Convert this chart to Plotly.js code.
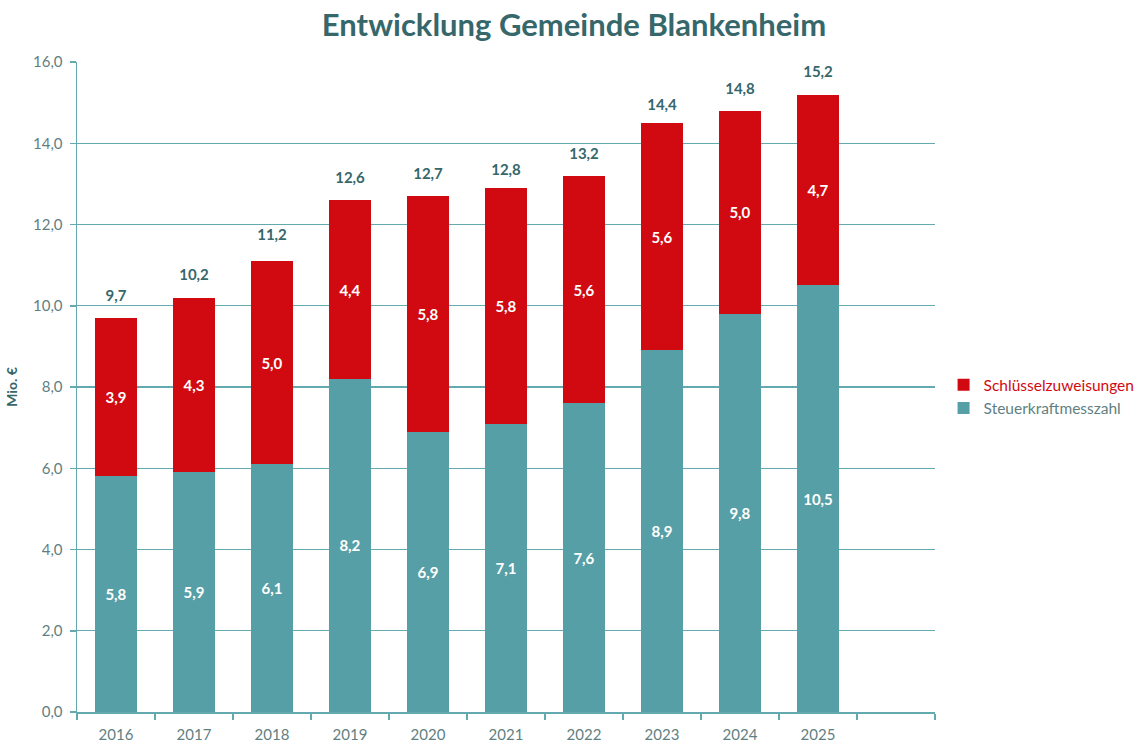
<!DOCTYPE html>
<html>
<head>
<meta charset="utf-8">
<script src="https://cdn.plot.ly/plotly-3.0.1.min.js"></script>
<style>html,body{margin:0;padding:0;background:#fff;}#chart{width:1148px;height:742px;}</style>
</head>
<body>
<div id="chart"></div>
<script>
const years = ['2016','2017','2018','2019','2020','2021','2022','2023','2024','2025'];
const steuerkraft = [5.8, 5.9, 6.1, 8.2, 6.9, 7.1, 7.6, 8.9, 9.8, 10.5];
const schluessel = [3.9, 4.3, 5.0, 4.4, 5.8, 5.8, 5.6, 5.6, 5.0, 4.7];
const totals = [9.7, 10.2, 11.2, 12.6, 12.7, 12.8, 13.2, 14.4, 14.8, 15.2];
const categories = years.concat([' ']);

const FONT = 'Century Gothic, Lato, sans-serif';
const TEAL = '#579fa6';
const RED = '#d10a11';
const AXIS = '#62a9b0';
const DARK = '#36676b';
const TICK = '#5f7f82';

const traces = [
  {
    type: 'bar', x: years, y: steuerkraft,
    name: '<span style="color:#5f7f82">Steuerkraftmesszahl</span>',
    marker: {color: TEAL},
    texttemplate: '%{y:.1f}', textposition: 'inside', insidetextanchor: 'middle',
    textangle: 0, constraintext: 'none',
    textfont: {family: FONT, size: 15, color: '#ffffff', weight: 'bold'},
    hoverinfo: 'skip'
  },
  {
    type: 'bar', x: years, y: schluessel,
    name: '<span style="color:#d10a11">Schlüsselzuweisungen</span>',
    marker: {color: RED},
    texttemplate: '%{y:.1f}', textposition: 'inside', insidetextanchor: 'middle',
    textangle: 0, constraintext: 'none',
    textfont: {family: FONT, size: 15, color: '#ffffff', weight: 'bold'},
    hoverinfo: 'skip'
  },
  {
    type: 'scatter', mode: 'markers+text', x: years, y: totals,
    marker: {size: 20, color: 'rgba(0,0,0,0)'},
    texttemplate: '%{y:.1f}', textposition: 'top center',
    textfont: {family: FONT, size: 15, color: DARK, weight: 'bold'},
    showlegend: false, hoverinfo: 'skip', cliponaxis: false
  }
];

const layout = {
  width: 1148, height: 742,
  margin: {l: 77, r: 213, t: 62, b: 30, autoexpand: false},
  paper_bgcolor: '#ffffff', plot_bgcolor: '#ffffff',
  separators: ',.',
  barmode: 'stack',
  bargap: 0.45,
  font: {family: FONT, color: TICK},
  title: {
    text: 'Entwicklung Gemeinde Blankenheim',
    font: {family: FONT, size: 31, color: DARK, weight: 'bold'},
    x: 0.5, xanchor: 'center', y: 0.966, yanchor: 'middle'
  },
  xaxis: {
    type: 'category', categoryorder: 'array', categoryarray: categories,
    range: [-0.5, 10.5],
    tickson: 'boundaries', ticks: 'outside', ticklen: 6, tickcolor: AXIS, tickwidth: 1.5,
    showline: true, linecolor: AXIS, linewidth: 1.5,
    showgrid: false, ticklabelstandoff: 8,
    tickfont: {family: FONT, size: 15, color: TICK}
  },
  yaxis: {
    range: [0, 16], dtick: 2, tickformat: '.1f',
    ticks: 'outside', ticklen: 6, tickcolor: AXIS, tickwidth: 1.5,
    showline: true, linecolor: AXIS, linewidth: 1.5,
    showgrid: true, gridcolor: AXIS, gridwidth: 1.2,
    zeroline: false, ticklabelstandoff: 4,
    tickfont: {family: FONT, size: 15, color: TICK},
    title: {text: 'Mio. €', font: {family: FONT, size: 14, color: DARK, weight: 'bold'}, standoff: 12}
  },
  legend: {
    x: 1.01, xanchor: 'left', y: 0.485, yanchor: 'middle',
    traceorder: 'reversed',
    font: {family: FONT, size: 15.5, color: TICK},
    itemwidth: 30, tracegroupgap: 8,
    bgcolor: 'rgba(0,0,0,0)'
  },
  showlegend: true
};

Plotly.newPlot('chart', traces, layout, {displayModeBar: false, staticPlot: true});
</script>
</body>
</html>
